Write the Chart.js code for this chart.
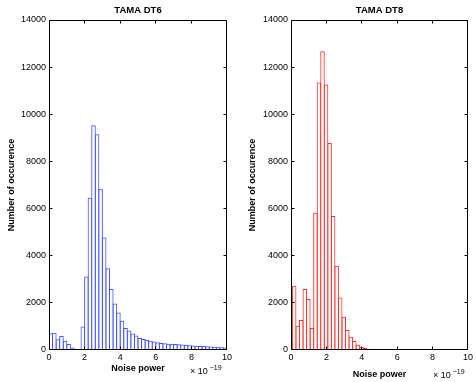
<!DOCTYPE html>
<html><head><meta charset="utf-8">
<script src="https://cdn.jsdelivr.net/npm/chart.js@4"></script>
<style>
html,body{margin:0;padding:0;background:#fff;}
#wrap{position:relative;width:476px;height:382px;background:#fff;}
canvas{position:absolute;top:0;}
</style></head><body>
<div id="wrap">
<canvas id="c1" width="238" height="382" style="left:0"></canvas>
<canvas id="c2" width="238" height="382" style="left:238px"></canvas>
</div>
<script>
// ---- data ----
const binCentersDT6 = [0.1,0.3,0.5,0.7,0.9,1.1,1.3,1.5,1.7,1.9,2.1,2.3,2.5,2.7,2.9,3.1,3.3,3.5,3.7,3.9,4.1,4.3,4.5,4.7,4.9,5.1,5.3,5.5,5.7,5.9,6.1,6.3,6.5,6.7,6.9,7.1,7.3,7.5,7.7,7.9,8.1,8.3,8.5,8.7,8.9,9.1,9.3,9.5,9.7,9.9];
const countsDT6 = [708,737,460,595,390,255,105,50,14,995,3116,6462,9536,9154,6845,4775,3470,2593,1969,1586,1240,935,822,700,610,510,467,420,390,360,330,300,285,270,260,250,240,230,220,205,195,185,175,165,155,145,140,135,120,105];
const binCentersDT8 = [0.18,0.38,0.58,0.78,0.98,1.18,1.38,1.58,1.78,1.98,2.18,2.38,2.58,2.78,2.98,3.18,3.38,3.58,3.78,3.98,4.18,4.38,4.58,4.78,4.98,5.18,5.38,5.58,5.78,5.98,6.18,6.38,6.58,6.78,6.98,7.18,7.38,7.58,7.78,7.98,8.18,8.38,8.58,8.78,8.98,9.18,9.38,9.58,9.78,9.98];
const countsDT8 = [2721,1033,1275,2593,2168,935,5824,11352,12670,11267,8784,5680,3571,2224,1410,850,567,383,227,128,85,57,42,28,20,14,12,10,8,8,6,6,5,5,4,4,4,3,3,3,3,2,2,2,2,2,2,2,2,2];
const xTicks = [0,2,4,6,8,10];
const yTicks = [0,2000,4000,6000,8000,10000,12000,14000];
const titles = ['TAMA DT6','TAMA DT8'];
const xLabel = 'Noise power';
const yLabel = 'Number of occurence';
const expBase = '\u00d7 10';
const expPow = '\u221219';

const FONT = "'Liberation Sans', Arial, Helvetica, sans-serif";

const frame = {
  id: 'frame',
  afterDraw(chart, args, o) {
    const {ctx, chartArea: a, scales: {x, y}} = chart;
    ctx.save();
    ctx.strokeStyle = '#000';
    ctx.lineWidth = 1;
    const L = a.left + 0.5, R = a.right - 0.5, T = a.top + 0.5, B = a.bottom - 0.5;
    ctx.beginPath();
    ctx.rect(L, T, R - L, B - T);
    xTicks.forEach(v => {
      const px = Math.min(Math.floor(x.getPixelForValue(v)) + 0.5, R);
      ctx.moveTo(px, B); ctx.lineTo(px, B - 3);
      ctx.moveTo(px, T); ctx.lineTo(px, T + 3);
    });
    yTicks.forEach(v => {
      const py = Math.min(Math.floor(y.getPixelForValue(v)) + 0.5, B);
      ctx.moveTo(L, py); ctx.lineTo(L + 3, py);
      ctx.moveTo(R, py); ctx.lineTo(R - 3, py);
    });
    ctx.stroke();
    ctx.fillStyle = '#000';
    ctx.font = 'bold 9.5px ' + FONT;
    ctx.textAlign = 'center';
    ctx.textBaseline = 'middle';
    ctx.fillText(o.title, (a.left + a.right) / 2, 10.5);
    ctx.textAlign = 'left';
    ctx.font = '9px ' + FONT;
    ctx.fillText(expBase, o.expX, o.expY);
    const w = ctx.measureText(expBase).width;
    ctx.font = '7px ' + FONT;
    ctx.fillText(expPow, o.expX + w + 2, o.expY - 3.5);
    ctx.restore();
  }
};

function makeChart(id, centers, counts, color, opt) {
  return new Chart(document.getElementById(id), {
    type: 'bar',
    data: {
      datasets: [{
        data: centers.map((c, i) => ({x: c, y: counts[i]})),
        borderColor: color,
        backgroundColor: 'rgba(255,255,255,0)',
        borderWidth: 1,
        barPercentage: 1.28,
        categoryPercentage: 1,
        borderSkipped: 'start',
        minBarLength: opt.minBar
      }]
    },
    options: {
      responsive: false, animation: false, devicePixelRatio: 1,
      layout: {padding: {top: 20, right: opt.padRight, left: 0, bottom: 0}},
      plugins: {
        legend: {display: false}, tooltip: {enabled: false}, title: {display: false},
        frame: {title: opt.title, expX: opt.expX, expY: opt.expY}
      },
      scales: {
        x: {
          type: 'linear', min: 0, max: 10, offset: false,
          grid: {display: false, drawTicks: false}, border: {display: false},
          ticks: {stepSize: 2, padding: 2, color: '#000', maxRotation: 0, font: {family: FONT, size: 9}},
          title: {display: true, text: xLabel, color: '#000', font: {family: FONT, size: 9, weight: 'bold'}, padding: {top: 0, bottom: opt.xTitlePad}},
          afterFit: s => { s.height = 32; }
        },
        y: {
          min: 0, max: 14000,
          grid: {display: false, drawTicks: false}, border: {display: false},
          ticks: {stepSize: 2000, padding: 3, color: '#000', font: {family: FONT, size: 9}, callback: v => String(v)},
          title: {display: true, text: yLabel, color: '#000', font: {family: FONT, size: 9, weight: 'bold'}, padding: {top: opt.yTitlePad, bottom: 0}},
          afterFit: s => { s.width = opt.yWidth; }
        }
      }
    },
    plugins: [frame]
  });
}

makeChart('c1', binCentersDT6, countsDT6, 'rgb(70,85,255)', {
  title: titles[0], padRight: 11, yWidth: 49, xTitlePad: 8.3, yTitlePad: 6.6, expX: 190, expY: 372, minBar: 0
});
makeChart('c2', binCentersDT8, countsDT8, 'rgb(255,50,50)', {
  title: titles[1], padRight: 8, yWidth: 53, xTitlePad: 1.6, yTitlePad: 9.6, expX: 195, expY: 376, minBar: 1
});
</script>
</body></html>
